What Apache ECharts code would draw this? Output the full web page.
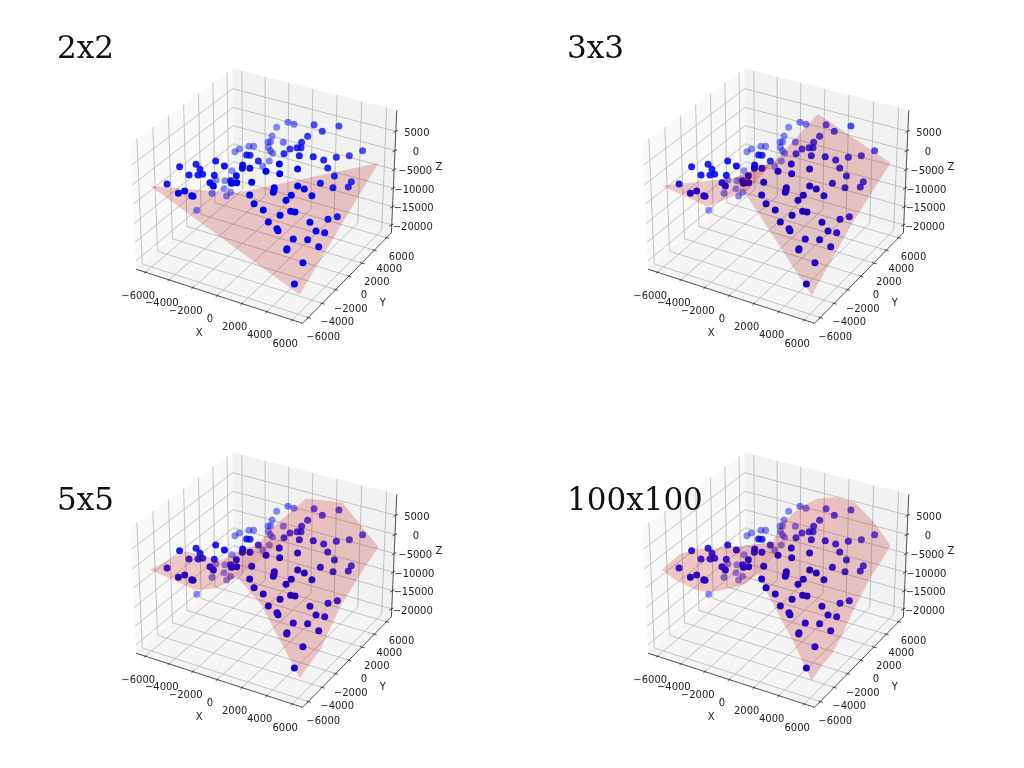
<!DOCTYPE html><html><head><meta charset="utf-8"><style>html,body{margin:0;background:#fff}#c{width:1024px;height:768px}</style>
<script src="https://cdn.jsdelivr.net/npm/echarts@6/dist/echarts.min.js"></script></head><body><div id="c"></div><script>
const panelTitles=['2x2','3x3','5x5','100x100'];
const xyTicks=[-6000,-4000,-2000,0,2000,4000,6000];
const zTicks=[-20000,-15000,-10000,-5000,0,5000];
const xyLimit=6800, zMin=-22200, zMax=10400;
const surfaceX2=[-6000,6000], surfaceY2=[-5800,5800];
const surfaceX3=[-6000,0,6000], surfaceY3=[-5800,0,5800];
const surfaceX5=[-6000,-3000,0,3000,6000], surfaceY5=[-5800,-2900,0,2900,5800];
const surfaceX9=[-6000,-4500,-3000,-1500,0,1500,3000,4500,6000], surfaceY9=[-5800,-4350,-2900,-1450,0,1450,2900,4350,5800];
const zGrid2=[[-1080,-17460],[-21540,-2430]];
const zGrid3=[[-1080,6400,-17670],[-15940,1940,-8930],[-20740,5330,-2430]];
const zGrid5=[[-1080,6340,6740,-1640,-17270],[-8360,-1630,5370,2370,-15130],[-15800,-8000,1940,2000,-8830],[-20070,-11870,-870,3630,-5290],[-19740,-5740,5130,6570,-2430]];
const zGrid9=[[-1080,4240,6940,8340,7740,6600,-1670,-9070,-17970],
[-5800,300,4300,6800,7800,6800,1300,-6700,-16700],
[-9730,-4630,370,4370,6370,6370,2870,-5130,-16230],
[-13470,-9070,-4070,1440,4440,5440,2940,-3570,-13710],
[-16300,-13000,-8000,-2000,2000,4500,3000,-2500,-10560],
[-18440,-15940,-10940,-4940,570,4070,4070,-940,-7840],
[-20170,-17370,-12370,-5370,1130,5130,5130,630,-5330],
[-20900,-17300,-10300,-2800,2700,6200,6200,2200,-4000],
[-21040,-14740,-4140,1590,5110,6670,6610,3170,-2040]];
const pointsX=[-1430,-890,1470,3110,-2350,2410,-2550,1700,-2920,-3010,
1630,-1230,-5690,-5760,-5270,-4960,-3120,920,1620,1860,
-2670,-2180,920,4970,4590,2270,3080,4060,3600,-1240,
-1010,-510,-2120,-3010,1900,4030,2880,-2670,-4730,-3910,
-1770,-740,-520,-60,-3590,-4130,-3580,-3350,-2570,-630,
-5310,1870,2430,4540,5380,5370,4780,4180,-5080,-2290,
-1260,-5850,-1190,490,740,1790,-6200,3460,3770,2770,
2830,2870,-3690,-3490,-2720,-2600,-4840,-5000,-5700,-5670,
2070,3550,4210,3490,2420,2900,-6510,3920,4070,3660,
5610,5310,3330,4780,3810,3900,5140,5480,4630,5040,
5550,4600,4620,5410,5580];
const pointsY=[5710,5650,4350,5060,5640,3850,5310,2980,5360,5900,
2230,4670,5820,5290,6550,6720,5750,1810,1580,1720,
5270,4750,950,5250,3910,740,1300,2930,1890,-590,
-510,-200,4160,4710,-1450,1710,-600,-2420,-3900,-3040,
-2730,-1970,-2390,-2130,-3040,-3650,-3330,-3090,-2800,-3020,
4100,-3240,-2330,1770,2780,2340,1130,360,-5030,-3830,
-5040,3940,-2870,-5500,-5250,-5030,3230,-1620,-1230,-3670,
-3810,-3970,-5730,-5240,-5540,-5570,460,2410,4500,3870,
-5780,-2680,-920,-3310,-5800,-5390,940,-3420,-3070,-4430,
290,-540,-5450,-2210,-5110,-5120,-1970,-1320,-4300,-2990,
-2300,-5110,-5190,-4310,-5800];
const pointsZ=[2000,2000,5800,5800,0,5600,-2000,5000,-4000,-4800,
4500,-1600,-9000,-9000,-9000,-9000,-6200,2800,4100,4100,
-6000,-5500,2900,700,1100,3900,3500,1700,2200,3000,
3000,1500,-6600,-9600,4800,800,3100,3000,2000,2000,
3000,3000,3000,3000,1000,0,0,0,0,2000,
-12000,5700,4200,-900,-3200,-3900,-2700,-900,-1000,0,
2000,-15000,0,5000,5000,5700,-14000,900,-200,3100,
2800,2500,-1000,-1000,-1000,-1000,-12000,-14000,-19000,-19000,
4000,300,-2000,0,2200,400,-19000,-2200,-2800,-1800,
-8100,-7700,-2100,-6200,-3900,-4300,-8500,-9700,-7100,-9100,
-11600,-8200,-8400,-12400,-15100];

// ---- 3D view (elevation 30, azimuth -60, distance 10, box 4:4:3) ----
const A=0.5714,C=0.4286,U=[Math.sqrt(3)/2,0.5,0],V=[-0.25,Math.sqrt(3)/4,Math.sqrt(3)/2],W=[Math.sqrt(3)/4,-0.75,0.5];
const norm=(x,y,z)=>[x/xyLimit*A,y/xyLimit*A,(z-(zMin+zMax)/2)/((zMax-zMin)/2)*C];
const dot=(a,b)=>a[0]*b[0]+a[1]*b[1]+a[2]*b[2];
function project(x,y,z){const p=norm(x,y,z),f=10/(10-dot(W,p));return [dot(U,p)*f,dot(V,p)*f];}
function depth(x,y,z){return dot(W,norm(x,y,z));}

const PW=512,PH=384,SC=167,OX=266,OY=190;
const grids=[],xAxes=[],yAxes=[],series=[];
const GRID='#b4b4b4',AX='#222';
function custom(panel,items,render,z){series.push({type:'custom',coordinateSystem:'cartesian2d',xAxisIndex:panel,yAxisIndex:panel,silent:true,clip:false,z,animation:false,data:items.map((_,i)=>[i,0]),renderItem:(pa,api)=>render(items[api.value(0)],api)});}
const poly3=(pts,api)=>pts.map(p=>api.coord(project(p[0],p[1],p[2])));
const L=xyLimit;
const panes=[
 {pts:[[-L,-L,zMin],[-L,L,zMin],[-L,L,zMax],[-L,-L,zMax]],fill:'#f9f9f9'},
 {pts:[[-L,L,zMin],[L,L,zMin],[L,L,zMax],[-L,L,zMax]],fill:'#f2f2f2'},
 {pts:[[-L,-L,zMin],[L,-L,zMin],[L,L,zMin],[-L,L,zMin]],fill:'#f5f5f5'}];
const gridLines=[];
xyTicks.forEach(t=>{gridLines.push([[t,-L,zMin],[t,L,zMin],[t,L,zMax]]);gridLines.push([[L,t,zMin],[-L,t,zMin],[-L,t,zMax]]);});
zTicks.forEach(t=>gridLines.push([[-L,-L,t],[-L,L,t],[L,L,t]]));
const axisLines=[[[-L,-L,zMin],[L,-L,zMin]],[[L,-L,zMin],[L,L,zMin]],[[L,L,zMin],[L,L,zMax]]];
xyTicks.forEach(t=>{axisLines.push([[t,-L-200,zMin],[t,-L+130,zMin]]);axisLines.push([[L+200,t,zMin],[L-130,t,zMin]]);});
zTicks.forEach(t=>axisLines.push([[L+60,L+220,t],[L-60,L-280,t]]));
const fmt=v=>String(v).replace('-','\u2212');
const labels=[];
xyTicks.forEach(t=>{labels.push({at:[t,-L,zMin],dx:-7.2,dy:24,text:fmt(t)});labels.push({at:[L,t,zMin],dx:15,dy:19.5,text:fmt(t)});});
zTicks.forEach(t=>labels.push({at:[L,L,t],dx:21,dy:2.2,text:fmt(t)}));
labels.push({at:[0,-L,zMin],dx:-18,dy:38,text:'X'},{at:[L,0,zMin],dx:34,dy:27,text:'Y'},{at:[L,L,(zMin+zMax)/2],dx:45,dy:-5,text:'Z'});
function facets(ax,ay,g){const out=[];for(let j=0;j<ay.length-1;j++)for(let i=0;i<ax.length-1;i++){const P=(a,b)=>[ax[a],ay[b],g[b][a]];const q=[P(i,j),P(i+1,j),P(i+1,j+1),P(i,j+1)];
 const a=norm(...q[0]),b=norm(...q[1]),c=norm(...q[2]),d=norm(...q[3]);const e1=[c[0]-a[0],c[1]-a[1],c[2]-a[2]],e2=[d[0]-b[0],d[1]-b[1],d[2]-b[2]];const nn=[e1[1]*e2[2]-e1[2]*e2[1],e1[2]*e2[0]-e1[0]*e2[2],e1[0]*e2[1]-e1[1]*e2[0]];const l=Math.hypot(...nn)||1;const s=Math.abs(nn[0]*-0.6+nn[1]*-0.6+nn[2]*0.5)/l;
 out.push({q,s});}return out;}
const surfaces=[[surfaceX2,surfaceY2,zGrid2],[surfaceX3,surfaceY3,zGrid3],[surfaceX5,surfaceY5,zGrid5],[surfaceX9,surfaceY9,zGrid9]];
function unionPath(fs,api){let d='';fs.forEach(f=>{let p=poly3(f.q,api);let area=0;p.forEach((a,i)=>{const b=p[(i+1)%p.length];area+=a[0]*b[1]-b[0]*a[1];});if(area<0)p=p.slice().reverse();d+='M'+p.map(a=>a[0].toFixed(2)+' '+a[1].toFixed(2)).join('L')+'Z';});return d;}
const scatterData=pointsX.map((x,i)=>({value:project(x,pointsY[i],pointsZ[i]),itemStyle:{opacity:Math.min(1,Math.max(0.45,0.74+0.8*depth(x,pointsY[i],pointsZ[i])))}}));
const titles=[];
[0,1,2,3].forEach(k=>{
 const col=k%2,row=k>>1,fs=facets(...surfaces[k]),dense=k>=2,zs=k===0?5:7;
 grids.push({left:col*PW,top:row*PH,width:PW,height:PH});
 xAxes.push({type:'value',gridIndex:k,min:-OX/SC,max:(PW-OX)/SC,show:false});
 yAxes.push({type:'value',gridIndex:k,min:(OY-PH)/SC,max:OY/SC,show:false});
 custom(k,panes,(it,api)=>({type:'polygon',shape:{points:poly3(it.pts,api)},style:{fill:it.fill}}),1);
 custom(k,gridLines,(it,api)=>({type:'polyline',shape:{points:poly3(it,api)},style:{fill:null,stroke:GRID,lineWidth:0.8}}),2);
 custom(k,axisLines,(it,api)=>({type:'polyline',shape:{points:poly3(it,api)},style:{fill:null,stroke:AX,lineWidth:0.8}}),3);
 custom(k,labels,(it,api)=>{const c=api.coord(project(...it.at));return {type:'text',style:{text:it.text,x:c[0]+it.dx,y:c[1]+it.dy,fill:'#222',font:'10px "DejaVu Sans"',textAlign:'center',textVerticalAlign:'middle',verticalAlign:'middle'}};},4);
 if(dense){
  custom(k,[0],(it,api)=>({type:'path',shape:{pathData:unionPath(fs,api)},style:{fill:'rgba(220,0,0,0.16)'}}),zs);
  custom(k,fs,(it,api)=>({type:'polygon',shape:{points:poly3(it.q,api)},style:{fill:`rgba(${Math.round(60+180*it.s)},0,0,0.05)`}}),zs);
 } else {
  custom(k,fs,(it,api)=>({type:'polygon',shape:{points:poly3(it.q,api)},style:{fill:`rgba(${Math.round(150+60*it.s)},0,0,0.2)`}}),zs);
 }
 series.push({type:'scatter',xAxisIndex:k,yAxisIndex:k,data:scatterData,symbolSize:7,silent:true,animation:false,z:6,itemStyle:{color:'#0000ee'}});
 titles.push({text:panelTitles[k],left:col?562:52,top:row?481:29,textStyle:{fontFamily:'"DejaVu Serif"',fontSize:31,fontWeight:'normal',color:'#111'}});
});
const chart=echarts.init(document.getElementById('c'),null,{renderer:'canvas'});
chart.setOption({animation:false,backgroundColor:'#fff',title:titles,grid:grids,xAxis:xAxes,yAxis:yAxes,series});
</script></body></html>
